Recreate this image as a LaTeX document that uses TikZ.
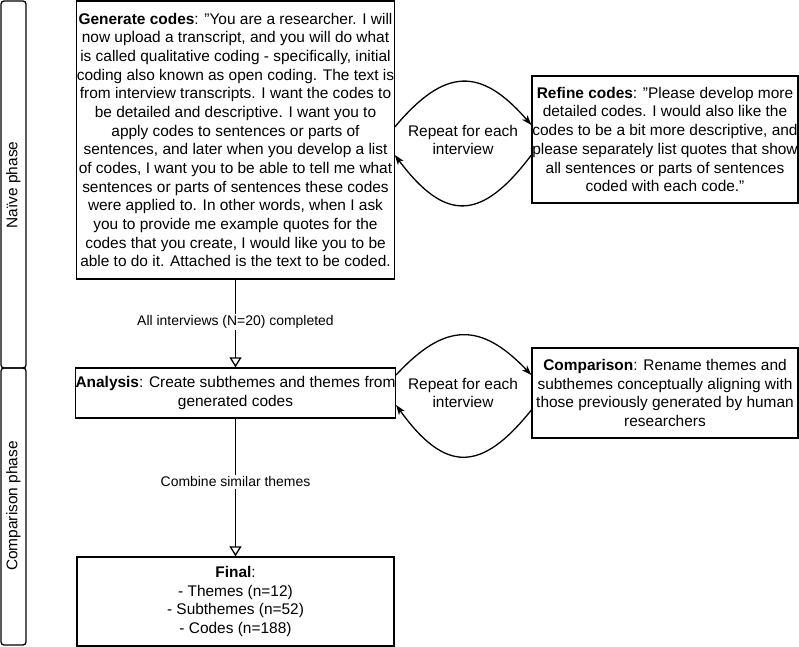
\documentclass[tikz,border=0pt]{standalone}
\usepackage{fontspec}
\setmainfont{Liberation Sans}
\usetikzlibrary{arrows.meta,calc}
\newcommand{\dq}{\symbol{34}}
\begin{document}
\begin{tikzpicture}[x=1bp,y=-1bp,
  box/.style={draw,line width=1.3bp,rectangle,align=center,inner sep=0pt,font=\fontsize{15.5}{18.75}\selectfont},
  band/.style={draw,line width=1.3bp,rounded corners=3bp},
  bandtxt/.style={rotate=90,font=\fontsize{15.5}{18.75}\selectfont},
  lbl/.style={fill=white,inner sep=1.5bp,font=\fontsize{14}{16}\selectfont},
  looplbl/.style={align=center,inner sep=0pt,font=\fontsize{15.5}{18.75}\selectfont},
  loopar/.style={line width=1.3bp,-{Stealth[length=10bp,width=7bp,inset=3bp]}},
  openar/.style={line width=1.3bp,-{Triangle[open,length=10bp,width=12bp]}}
]
\useasboundingbox (0,0) rectangle (799,647);
% phase bands
\draw[band] (1,1) rectangle (26,368);
\node[bandtxt] (naive) at (13.5,185) {Naïve phase};
\draw[band] (1,368) rectangle (26,645);
\node[bandtxt] (compph) at (13.5,506) {Comparison phase};

% boxes
\node[box,minimum width=317bp,minimum height=278bp] (gen) at (235.5,140) {%
\textbf{Generate codes}: \dq You are a researcher. I will\\
now upload a transcript, and you will do what\\
is called qualitative coding - specifically, initial\\
coding also known as open coding. The text is\\
from interview transcripts. I want the codes to\\
be detailed and descriptive. I want you to\\
apply codes to sentences or parts of\\
sentences, and later when you develop a list\\
of codes, I want you to be able to tell me what\\
sentences or parts of sentences these codes\\
were applied to. In other words, when I ask\\
you to provide me example quotes for the\\
codes that you create, I would like you to be\\
able to do it. Attached is the text to be coded.};

\node[box,minimum width=266bp,minimum height=127bp] (ref) at (665,139.5) {%
\textbf{Refine codes}: \dq Please develop more\\
detailed codes. I would also like the\\
codes to be a bit more descriptive, and\\
please separately list quotes that show\\
all sentences or parts of sentences\\
coded with each code.\dq};

\node[box,minimum width=317bp,minimum height=50bp] (ana) at (235.5,393) {%
\textbf{Analysis}: Create subthemes and themes from\\
generated codes};

\node[box,minimum width=266bp,minimum height=90bp] (cmp) at (665,393) {%
\textbf{Comparison}: Rename themes and\\
subthemes conceptually aligning with\\
those previously generated by human\\
researchers};

\node[box,minimum width=317bp,minimum height=89bp] (fin) at (235.5,601.5) {%
\textbf{Final}:\\
- Themes (n=12)\\
- Subthemes (n=52)\\
- Codes (n=188)};

% vertical connectors
\draw[openar] (gen.south) -- node[lbl,pos=0.48] {All interviews (N=20) completed} (ana.north);
\draw[openar] (ana.south) -- node[lbl,pos=0.46] {Combine similar themes} (fin.north);

% loops
\coordinate (g1) at ($(gen.east)+(0,-13)$);
\coordinate (g2) at ($(gen.east)+(0,15)$);
\coordinate (r1) at ($(ref.west)+(0,-14.5)$);
\coordinate (r2) at ($(ref.west)+(0,15.5)$);
\draw[loopar] (g1) .. controls (445,67) and (481,67) .. (r1);
\draw[loopar] (r2) .. controls (481,222) and (445,222) .. (g2);
\node[looplbl] (rep1) at (463,140) {Repeat for each\\interview};

\coordinate (a1) at ($(ana.east)+(0,-18)$);
\coordinate (a2) at ($(ana.east)+(0,12)$);
\coordinate (c1) at ($(cmp.west)+(0,-18)$);
\coordinate (c2) at ($(cmp.west)+(0,17)$);
\draw[loopar] (a1) .. controls (445,322) and (481,322) .. (c1);
\draw[loopar] (c2) .. controls (481,473) and (445,473) .. (a2);
\node[looplbl] (rep2) at (463,393) {Repeat for each\\interview};
\end{tikzpicture}
\end{document}
